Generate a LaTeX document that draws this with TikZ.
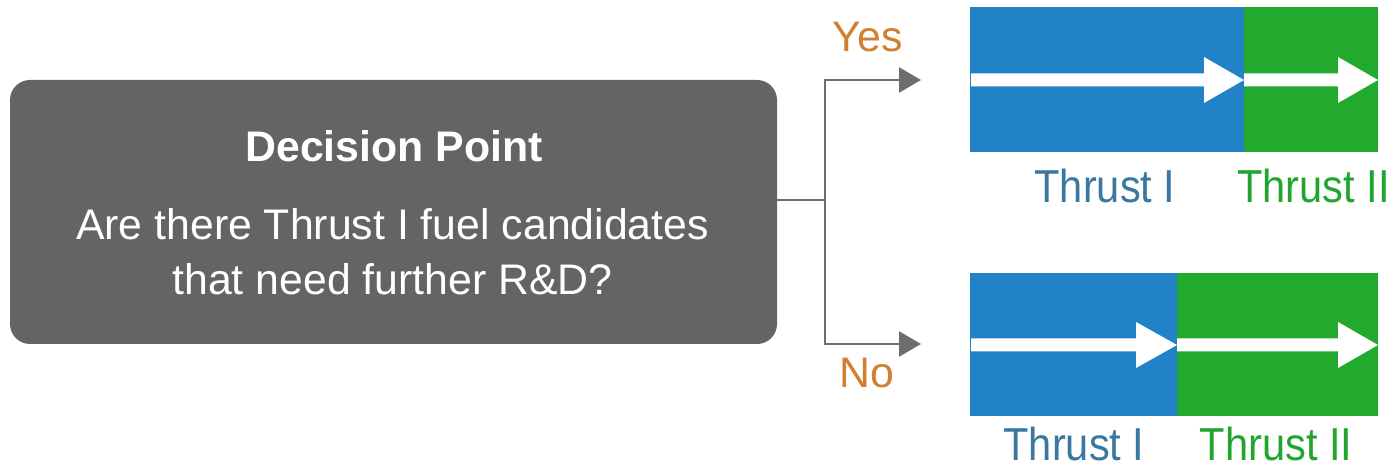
\documentclass[tikz,border=0pt]{standalone}
\usepackage{fontspec}
\setmainfont{Liberation Sans}
\usetikzlibrary{arrows.meta}
\definecolor{boxgray}{RGB}{100,100,100}
\definecolor{conngray}{RGB}{110,110,110}
\definecolor{barblue}{RGB}{34,130,200}
\definecolor{bargreen}{RGB}{33,170,46}
\definecolor{txtblue}{RGB}{58,120,160}
\definecolor{txtgreen}{RGB}{33,165,47}
\definecolor{txtorange}{RGB}{208,128,48}
\newcommand\wharrow[4]{%
  \fill[white] (#1,#4-6.5) -- (#2,#4-6.5) -- (#2,#4-23) -- (#3,#4)
    -- (#2,#4+23) -- (#2,#4+6.5) -- (#1,#4+6.5) -- cycle;}
\newcommand\talltext[1]{\scalebox{0.99}[1.1]{#1}}
\begin{document}
\begin{tikzpicture}[x=0.5pt,y=-0.5pt,
  lbl/.style={anchor=base, inner sep=0pt, font=\fontsize{21.4}{25}\selectfont},
  tlbl/.style={anchor=base, inner sep=0pt, font=\fontsize{21}{25}\selectfont},
  bar/.style={draw=none, inner sep=0pt, outer sep=0pt, anchor=north west},
  conn/.style={draw=conngray, line width=1.25pt},
  tip/.style={-{Triangle[length=11pt,width=12.5pt]}}]
\useasboundingbox (0,0) rectangle (1391,469);
\fill[white] (0,0) rectangle (1391,469);

\node[fill=boxgray, rounded corners=10pt, minimum width=383.5pt,
      minimum height=132pt, inner sep=0pt, outer sep=0pt] (dp) at (393.5,212) {};
\node[lbl, text=white, font=\bfseries\fontsize{21.4}{25}\selectfont] (title) at (394,162) {Decision Point};
\node[lbl, text=white] (q1) at (392.5,240) {Are there Thrust I fuel candidates};
\node[lbl, text=white] (q2) at (392.5,295) {that need further R\&D?};

\coordinate (j) at (825,200);
\coordinate (yes) at (921,80);
\coordinate (no) at (921,344);
\draw[conn] (dp.east |- j) -- (j);
\draw[conn,tip] (j) |- (yes);
\draw[conn,tip] (j) |- (no);
\node[lbl, text=txtorange] (yeslbl) at (867.5,52) {Yes};
\node[lbl, text=txtorange] (nolbl) at (867,388) {No};

\node[bar, fill=barblue, minimum width=137pt, minimum height=72.5pt] (b1) at (970,7) {};
\node[bar, fill=bargreen, minimum width=67pt, minimum height=72.5pt] (g1) at (1244,7) {};
\node[bar, fill=barblue, minimum width=103.5pt, minimum height=71.5pt] (b2) at (970,273) {};
\node[bar, fill=bargreen, minimum width=100.5pt, minimum height=71.5pt] (g2) at (1177,273) {};

\wharrow{971}{1204}{1244}{80}
\wharrow{1244}{1338}{1378}{80}
\wharrow{971}{1136}{1177}{345}
\wharrow{1177}{1338}{1378}{345}

\node[tlbl, text=txtblue] (t1a) at (1105,203) {\talltext{Thrust I}};
\node[tlbl, text=txtgreen] (t2a) at (1313.5,203) {\talltext{Thrust II}};
\node[tlbl, text=txtblue] (t1b) at (1074,461) {\talltext{Thrust I}};
\node[tlbl, text=txtgreen] (t2b) at (1276,461) {\talltext{Thrust II}};
\end{tikzpicture}
\end{document}
